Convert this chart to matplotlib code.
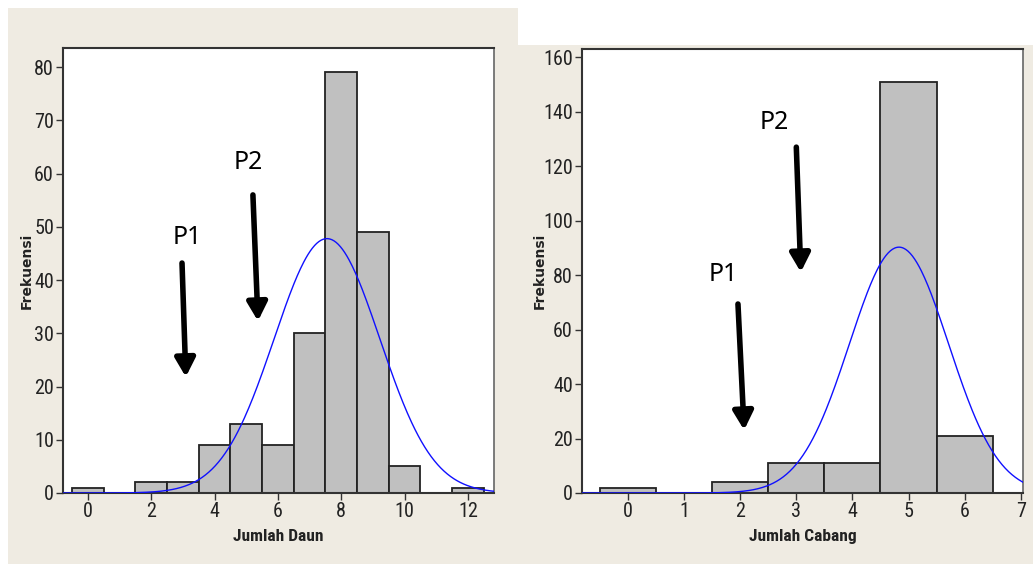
import numpy as np
import matplotlib.pyplot as plt
from matplotlib.patches import Rectangle
from matplotlib import font_manager as fm

# data
daun_vals = [0, 1, 2, 3, 4, 5, 6, 7, 8, 9, 10, 11, 12]
daun_freq = [1, 0, 2, 2, 9, 13, 9, 30, 79, 49, 5, 0, 1]
cabang_vals = [0, 1, 2, 3, 4, 5, 6]
cabang_freq = [2, 0, 4, 11, 11, 151, 21]

daun_ticks = [0, 2, 4, 6, 8, 10, 12]
daun_yticks = [0, 10, 20, 30, 40, 50, 60, 70, 80]
cabang_ticks = [0, 1, 2, 3, 4, 5, 6, 7]
cabang_yticks = [0, 20, 40, 60, 80, 100, 120, 140, 160]

# cari font sempit yang terpasang
installed = {f.name for f in fm.fontManager.ttflist}
narrow = None
for cand in ['Liberation Sans Narrow', 'DejaVu Sans Condensed', 'Roboto Condensed']:
    if cand in installed:
        narrow = cand
        break
if narrow is None:
    tick_font = ['Liberation Sans', 'DejaVu Sans']
    tick_size = 12.5
    lab_size = 12
else:
    tick_font = [narrow, 'DejaVu Sans']
    tick_size = 14.5
    lab_size = 12.5

beige = '#EFEBE2'

fig = plt.figure(figsize=(10.33, 5.64), dpi=100)
fig.patch.set_facecolor('white')

# latar krem di belakang tiap panel
fig.add_artist(Rectangle((0.0077, 0), 0.4937, 0.986, transform=fig.transFigure,
                         facecolor=beige, edgecolor='none', zorder=-10))
fig.add_artist(Rectangle((0.5015, 0), 0.4985, 0.920, transform=fig.transFigure,
                         facecolor=beige, edgecolor='none', zorder=-10))


def histo(ax, vals, freq, xlim, ylim, xticks, yticks, xlabel, ylab_x):
    vals = np.array(vals, dtype=float)
    freq = np.array(freq, dtype=float)
    ax.set_facecolor('white')
    ax.bar(vals, freq, width=1.0, color='#C0C0C0', edgecolor='#222222',
           linewidth=1.3, zorder=2)
    # kurva normal dari data histogram
    n = freq.sum()
    mu = (vals * freq).sum() / n
    sd = np.sqrt(((vals - mu) ** 2 * freq).sum() / n)
    xs = np.linspace(xlim[0], xlim[1], 400)
    ys = n * np.exp(-0.5 * ((xs - mu) / sd) ** 2) / (sd * np.sqrt(2 * np.pi))
    ax.plot(xs, ys, color='#1010FF', lw=1.0, zorder=3)
    ax.set_xlim(xlim)
    ax.set_ylim(ylim)
    ax.set_xticks(xticks)
    ax.set_yticks(yticks)
    ax.tick_params(direction='out', length=5, width=1, colors='#333333',
                   labelsize=tick_size, labelcolor='#222222', pad=1.5)
    for lab in ax.get_xticklabels() + ax.get_yticklabels():
        lab.set_family(tick_font)
    for s in ['top', 'left', 'bottom']:
        ax.spines[s].set_color('#333333')
        ax.spines[s].set_linewidth(1.5)
    ax.spines['right'].set_color('#666666')
    ax.spines['right'].set_linewidth(1.2)
    ax.set_xlabel(xlabel, family=tick_font, fontsize=lab_size, fontweight='bold',
                  color='#222222')
    ax.xaxis.set_label_coords(0.5, -0.08)
    ax.set_ylabel('Frekuensi', fontsize=10, fontweight='bold', color='#222222')
    ax.yaxis.set_label_coords(ylab_x, 0.5)


def arrow(ax, label, txt_xy, start, end):
    ax.text(txt_xy[0], txt_xy[1], label, family='Noto Sans', fontsize=18,
            ha='center', va='center', zorder=5)
    ax.annotate('', xy=end, xytext=start,
                arrowprops=dict(arrowstyle='-|>,head_width=0.3,head_length=0.55',
                                lw=4, color='black', mutation_scale=20,
                                shrinkA=0, shrinkB=0), zorder=5)


ax1 = fig.add_axes([0.061, 0.1259, 0.417, 0.789])
histo(ax1, daun_vals, daun_freq, (-0.79, 12.82), (0, 83.6), daun_ticks,
      daun_yticks, 'Jumlah Daun', -0.068)
arrow(ax1, 'P1', (3.14, 48.0), (2.97, 43.2), (3.09, 21.8))
arrow(ax1, 'P2', (5.05, 62.1), (5.21, 56.0), (5.37, 32.3))

ax2 = fig.add_axes([0.5634, 0.1259, 0.4269, 0.787])
histo(ax2, cabang_vals, cabang_freq, (-0.82, 7.04), (0, 163), cabang_ticks,
      cabang_yticks, 'Jumlah Cabang', -0.08)
arrow(ax2, 'P1', (1.69, 80.4), (1.96, 69.4), (2.07, 23.1))
arrow(ax2, 'P2', (2.60, 136.0), (3.00, 127.0), (3.08, 81.1))

fig.savefig('out.png', dpi=100)
